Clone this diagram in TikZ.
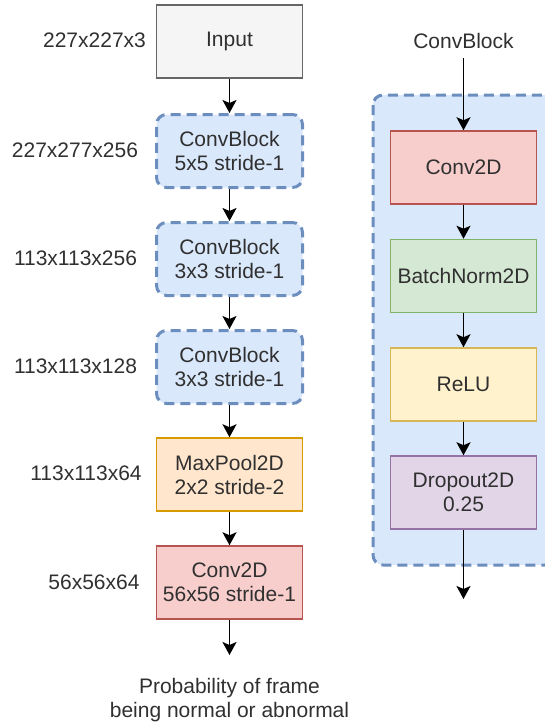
\documentclass[tikz,border=0pt]{standalone}
\usepackage{fontspec}
\setmainfont{Liberation Sans}
\usetikzlibrary{arrows.meta}
\definecolor{txt}{HTML}{303030}
\definecolor{grayfill}{HTML}{F5F5F5}
\definecolor{graydraw}{HTML}{666666}
\definecolor{bluefill}{HTML}{DAE8FC}
\definecolor{bluedraw}{HTML}{6C8EBF}
\definecolor{orangefill}{HTML}{FFE6CC}
\definecolor{orangedraw}{HTML}{D79B00}
\definecolor{redfill}{HTML}{F8CECC}
\definecolor{reddraw}{HTML}{B85450}
\definecolor{greenfill}{HTML}{D5E8D4}
\definecolor{greendraw}{HTML}{82B366}
\definecolor{yellowfill}{HTML}{FFF2CC}
\definecolor{yellowdraw}{HTML}{D6B656}
\definecolor{purplefill}{HTML}{E1D5E7}
\definecolor{purpledraw}{HTML}{9673A6}
\tikzset{
  every node/.style={text=txt, font=\fontsize{21}{24}\selectfont},
  layer/.style={draw, line width=1.5pt, minimum width=146pt, minimum height=73pt,
    align=center, inner sep=0pt},
  convblock/.style={layer, fill=bluefill, draw=bluedraw, line width=3pt,
    dash pattern=on 10pt off 6pt, rounded corners=10pt},
  inputbox/.style={layer, fill=grayfill, draw=graydraw},
  poolbox/.style={layer, fill=orangefill, draw=orangedraw},
  convbox/.style={layer, fill=redfill, draw=reddraw},
  normbox/.style={layer, fill=greenfill, draw=greendraw},
  relubox/.style={layer, fill=yellowfill, draw=yellowdraw},
  dropbox/.style={layer, fill=purplefill, draw=purpledraw},
  flow/.style={line width=1.7pt, -{Stealth[length=13pt, width=14pt, inset=3pt]}},
  shapelabel/.style={anchor=center},
}
\begin{document}
\begin{tikzpicture}[x=1pt, y=-1pt]
\useasboundingbox (0,0) rectangle (545,724);
\clip (0,0) rectangle (545,724);

% ConvBlock detail container
\draw[fill=bluefill, draw=bluedraw, line width=3pt, dash pattern=on 10pt off 6pt,
  rounded corners=10pt] (373,95) rectangle (575,565);

% main network column
\node[inputbox] (in) at (229.5,41.5) {Input};
\node[convblock] (cb1) at (229.5,151) {ConvBlock\\5x5 stride-1};
\node[convblock] (cb2) at (229.5,259) {ConvBlock\\3x3 stride-1};
\node[convblock] (cb3) at (229.5,367) {ConvBlock\\3x3 stride-1};
\node[poolbox] (mp) at (229.5,474.5) {MaxPool2D\\2x2 stride-2};
\node[convbox] (cv) at (229.5,582.5) {Conv2D\\56x56 stride-1};
\coordinate (outtip) at (229.5,655);
\node[align=center] (out) at (229.5,700)
  {Probability of frame\\being normal or abnormal};

% tensor sizes
\node[shapelabel] (s0) at (94.5,40) {227x227x3};
\node[shapelabel] (s1) at (75,150) {227x277x256};
\node[shapelabel] (s2) at (75.5,258) {113x113x256};
\node[shapelabel] (s3) at (75.5,366) {113x113x128};
\node[shapelabel] (s4) at (86,473) {113x113x64};
\node[shapelabel] (s5) at (94,582) {56x56x64};

\draw[flow] (in) -- (cb1);
\draw[flow] (cb1) -- (cb2);
\draw[flow] (cb2) -- (cb3);
\draw[flow] (cb3) -- (mp);
\draw[flow] (mp) -- (cv);
\draw[flow] (cv) -- (outtip);

% ConvBlock internals
\node (cbt) at (463.5,41) {ConvBlock};
\node[convbox] (c2d) at (463.5,167.5) {Conv2D};
\node[normbox] (bn) at (463.5,276) {BatchNorm2D};
\node[relubox] (relu) at (463.5,384.5) {ReLU};
\node[dropbox] (dp) at (463.5,492.5) {Dropout2D\\0.25};
\coordinate (cbtop) at (463.5,58);
\coordinate (cbend) at (463.5,599);

\draw[flow] (cbtop) -- (c2d);
\draw[flow] (c2d) -- (bn);
\draw[flow] (bn) -- (relu);
\draw[flow] (relu) -- (dp);
\draw[flow] (dp) -- (cbend);
\end{tikzpicture}
\end{document}
